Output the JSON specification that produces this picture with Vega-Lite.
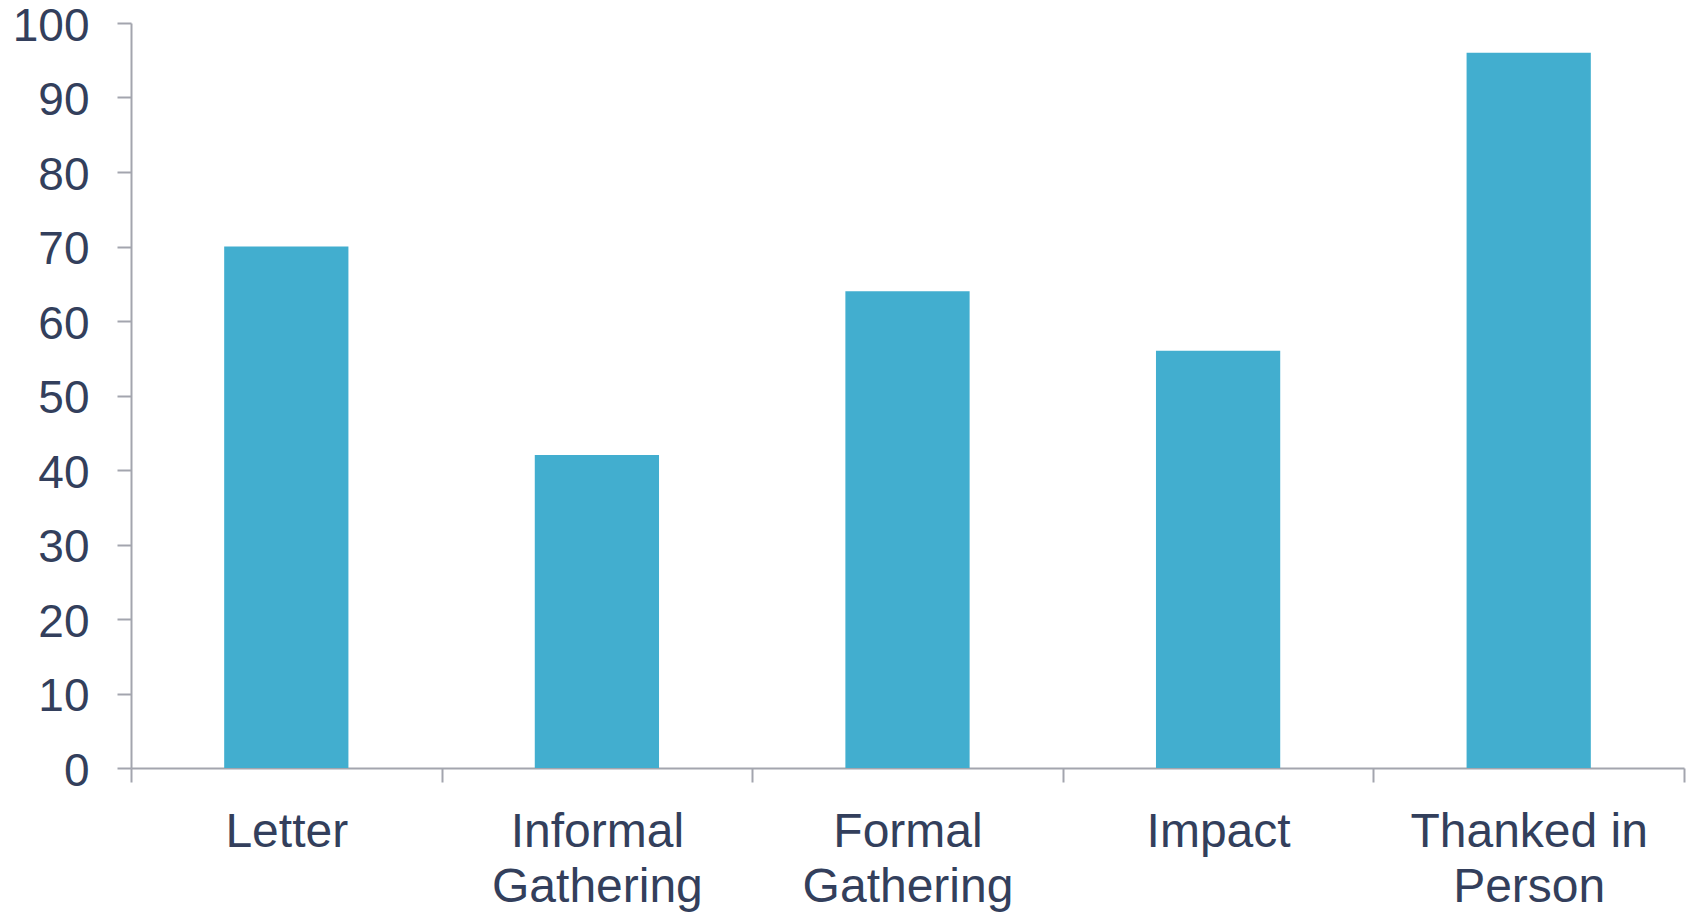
{
  "$schema": "https://vega.github.io/schema/vega-lite/v6.json",
  "autosize": "none",
  "width": 1553,
  "height": 745,
  "padding": {"left": 131, "top": 23, "right": 8, "bottom": 145},
  "background": "white",
  "config": {
    "view": {"stroke": null},
    "font": "Liberation Sans"
  },
  "data": {
    "values": [
      {"category": "Letter", "value": 70},
      {"category": "Informal Gathering", "value": 42},
      {"category": "Formal Gathering", "value": 64},
      {"category": "Impact", "value": 56},
      {"category": "Thanked in Person", "value": 96}
    ]
  },
  "mark": {"type": "bar", "color": "#42AECF", "width": {"band": 0.4}},
  "encoding": {
    "x": {
      "field": "category",
      "type": "nominal",
      "sort": null,
      "scale": {"paddingInner": 0, "paddingOuter": 0},
      "axis": {
        "title": null,
        "labelAngle": 0,
        "labelLimit": 0,
        "labelFont": "Liberation Sans",
        "labelFontSize": 48,
        "labelColor": "#333F5C",
        "labelPadding": 26,
        "labelLineHeight": 55,
        "labelBaseline": "top",
        "tickBand": "extent",
        "tickSize": 14,
        "tickColor": "#A3A5AE",
        "tickWidth": 2,
        "domainColor": "#A3A5AE",
        "domainWidth": 2,
        "labelExpr": "datum.label == 'Informal Gathering' ? ['Informal', 'Gathering'] : datum.label == 'Formal Gathering' ? ['Formal', 'Gathering'] : datum.label == 'Thanked in Person' ? ['Thanked in', 'Person'] : datum.label"
      }
    },
    "y": {
      "field": "value",
      "type": "quantitative",
      "scale": {"domain": [0, 100], "nice": false},
      "axis": {
        "title": null,
        "values": [0, 10, 20, 30, 40, 50, 60, 70, 80, 90, 100],
        "grid": false,
        "labelLimit": 0,
        "labelFont": "Liberation Sans",
        "labelFontSize": 46,
        "labelColor": "#333F5C",
        "labelPadding": 28,
        "labelOffset": 3,
        "tickSize": 14,
        "tickColor": "#A3A5AE",
        "tickWidth": 2,
        "domainColor": "#A3A5AE",
        "domainWidth": 2
      }
    }
  }
}
